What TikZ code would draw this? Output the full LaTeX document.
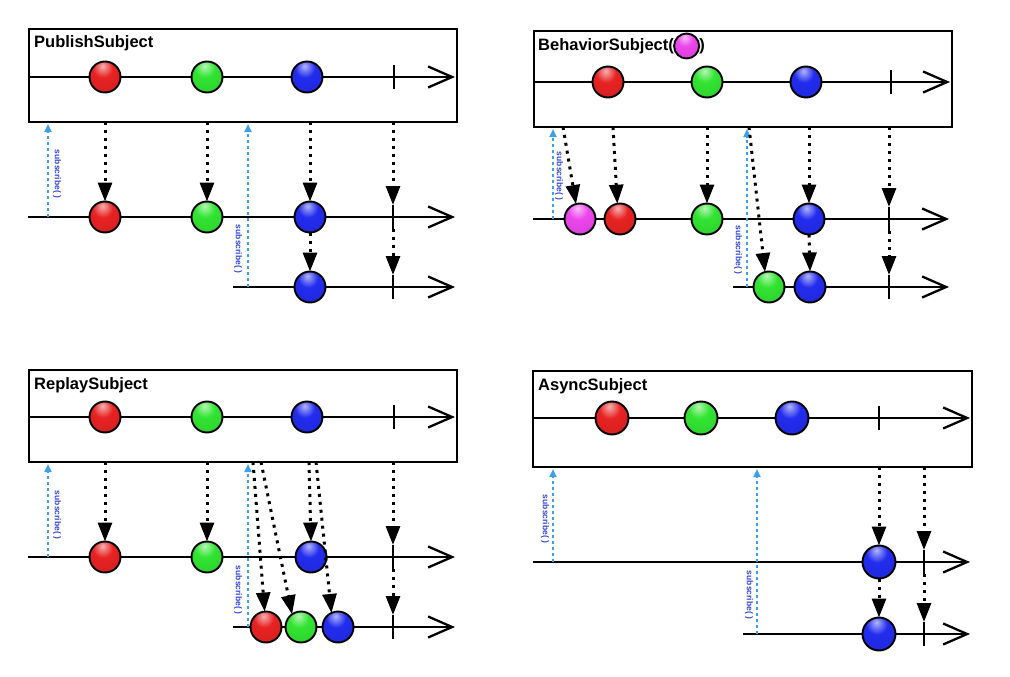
\documentclass[tikz,border=0pt]{standalone}
\usepackage{fontspec}
\setmainfont{Liberation Sans}
\usetikzlibrary{arrows.meta,shadings}
\definecolor{ballred}{RGB}{232,34,34}
\definecolor{ballgreen}{RGB}{50,228,50}
\definecolor{ballblue}{RGB}{34,44,238}
\definecolor{ballmag}{RGB}{236,70,236}
\definecolor{subarrow}{RGB}{60,160,240}
\definecolor{subtext}{RGB}{50,70,220}
\pgfdeclareradialshading{shR}{\pgfpoint{-4bp}{18bp}}{color(0bp)=(ballred!35!white); color(16bp)=(ballred); color(50bp)=(ballred!88!black); color(68bp)=(ballred!65!black); color(100bp)=(ballred!65!black)}
\pgfdeclareradialshading{shG}{\pgfpoint{-4bp}{18bp}}{color(0bp)=(ballgreen!35!white); color(16bp)=(ballgreen); color(50bp)=(ballgreen!88!black); color(68bp)=(ballgreen!65!black); color(100bp)=(ballgreen!65!black)}
\pgfdeclareradialshading{shB}{\pgfpoint{-4bp}{18bp}}{color(0bp)=(ballblue!35!white); color(16bp)=(ballblue); color(50bp)=(ballblue!88!black); color(68bp)=(ballblue!65!black); color(100bp)=(ballblue!65!black)}
\pgfdeclareradialshading{shM}{\pgfpoint{-4bp}{18bp}}{color(0bp)=(ballmag!35!white); color(16bp)=(ballmag); color(50bp)=(ballmag!88!black); color(68bp)=(ballmag!65!black); color(100bp)=(ballmag!65!black)}
\tikzset{
  frame/.style={draw=black, line width=2.3pt, anchor=north west, inner sep=0pt, outer sep=0pt},
  ttl/.style={anchor=base west, inner sep=0pt, font=\bfseries\fontsize{16.5}{18}\selectfont},
  tl/.style={line width=2.3pt, -{Straight Barb[length=24pt,width=21pt,line width=2.3pt]}},
  tk/.style={line width=2.3pt},
  ballnode/.style={circle, draw=black, line width=1.9pt, minimum size=31pt, inner sep=0pt, outer sep=0pt},
  rb/.style={ballnode, shading=shR},
  gb/.style={ballnode, shading=shG},
  bb/.style={ballnode, shading=shB},
  mb/.style={ballnode, shading=shM},
  ev/.style={black, line width=3pt, dash pattern=on 3pt off 5pt, -{Triangle[length=19pt,width=14pt]}},
  sub/.style={subarrow, line width=2.2pt, dash pattern=on 3pt off 3pt, -{Triangle[length=8pt,width=7pt]}},
  sublbl/.style={text=subtext, font=\bfseries\fontsize{8.5}{9}\selectfont, rotate=-90, inner sep=0pt}
}
\begin{document}
\begin{tikzpicture}[x=1pt,y=-1pt]
\useasboundingbox (0,0) rectangle (1010,677);

% ================= PublishSubject =================
\node[frame, minimum width=428pt, minimum height=93pt] (f1) at (29,29) {};
\node[ttl] (t1) at (34,48) {PublishSubject};
\coordinate (a1s) at (29,77); \coordinate (a1e) at (455,77);
\draw[tl] (a1s) -- (a1e);
\coordinate (a2s) at (28,217); \coordinate (a2e) at (455,217);
\draw[tl] (a2s) -- (a2e);
\coordinate (a3s) at (233,287); \coordinate (a3e) at (455,287);
\draw[tl] (a3s) -- (a3e);
\coordinate (k1a) at (394,65); \coordinate (k1b) at (394,89);
\draw[tk] (k1a) -- (k1b);
\coordinate (k2a) at (393,205); \coordinate (k2b) at (393,229);
\draw[tk] (k2a) -- (k2b);
\coordinate (k3a) at (393,275); \coordinate (k3b) at (393,299);
\draw[tk] (k3a) -- (k3b);
% subscribe
\coordinate (s1a) at (48,217); \coordinate (s1b) at (48,124);
\draw[sub] (s1a) -- (s1b);
\node[sublbl] (l1a) at (57,174) {subscribe( )};
\coordinate (s1c) at (248,287); \coordinate (s1d) at (248,124);
\draw[sub] (s1c) -- (s1d);
\node[sublbl] (l1b) at (238,249) {subscribe( )};
% balls
\node[rb] (p1r) at (105,77) {};
\node[gb] (p1g) at (207,77) {};
\node[bb] (p1b) at (307,77) {};
\node[rb] (p1r2) at (105,217) {};
\node[gb] (p1g2) at (207,217) {};
\node[bb] (p1b2) at (310,217) {};
\node[bb] (p1b3) at (310,287) {};
% event arrows
\coordinate (e1r) at (105,122); \coordinate (e1g) at (207,122);
\coordinate (e1b) at (310,122); \coordinate (e1k) at (393,122);
\draw[ev] (e1r) -- (p1r2.north);
\draw[ev] (e1g) -- (p1g2.north);
\draw[ev] (e1b) -- (p1b2.north);
\draw[ev] (e1k) -- (k2a);
\draw[ev] (p1b2.south) -- (p1b3.north);
\draw[ev] (k2b) -- (k3a);

% ================= BehaviorSubject =================
\node[frame, minimum width=418pt, minimum height=96pt] (f2) at (534,31) {};
\node[ttl] (t2) at (538,51) {BehaviorSubject(};
\node[mb, minimum size=25pt, anchor=west] (t2b) at ([yshift=5pt]t2.base east) {};
\node[ttl] (t2c) at (t2b.east |- t2.base) {)};
\coordinate (b1s) at (534,82); \coordinate (b1e) at (950,82);
\draw[tl] (b1s) -- (b1e);
\coordinate (b2s) at (533,219); \coordinate (b2e) at (949,219);
\draw[tl] (b2s) -- (b2e);
\coordinate (b3s) at (733,287); \coordinate (b3e) at (949,287);
\draw[tl] (b3s) -- (b3e);
\coordinate (k4a) at (891,70); \coordinate (k4b) at (891,94);
\draw[tk] (k4a) -- (k4b);
\coordinate (k5a) at (889,207); \coordinate (k5b) at (889,231);
\draw[tk] (k5a) -- (k5b);
\coordinate (k6a) at (889,275); \coordinate (k6b) at (889,299);
\draw[tk] (k6a) -- (k6b);
\coordinate (s2a) at (553,219); \coordinate (s2b) at (553,129);
\draw[sub] (s2a) -- (s2b);
\node[sublbl] (l2a) at (559,176) {subscribe( )};
\coordinate (s2c) at (747,287); \coordinate (s2d) at (747,129);
\draw[sub] (s2c) -- (s2d);
\node[sublbl] (l2b) at (738,250) {subscribe( )};
\node[rb] (q1r) at (608,82) {};
\node[gb] (q1g) at (707,82) {};
\node[bb] (q1b) at (806,82) {};
\node[mb] (q2m) at (580,219) {};
\node[rb] (q2r) at (620,219) {};
\node[gb] (q2g) at (707,219) {};
\node[bb] (q2b) at (809,219) {};
\node[gb] (q3g) at (769,287) {};
\node[bb] (q3b) at (810,287) {};
\coordinate (e2m) at (563,127); \coordinate (e2r) at (613,127);
\coordinate (e2g) at (707,127); \coordinate (e2b) at (809,127);
\coordinate (e2k) at (889,127); \coordinate (e2g3) at (749,127);
\draw[ev] (e2m) -- (q2m.105);
\draw[ev] (e2r) -- (q2r.100);
\draw[ev] (e2g) -- (q2g.north);
\draw[ev] (e2b) -- (q2b.north);
\draw[ev] (e2k) -- (k5a);
\draw[ev] (e2g3) -- (q3g.105);
\draw[ev] (q2b.south) -- (q3b.north);
\draw[ev] (k5b) -- (k6a);

% ================= ReplaySubject =================
\node[frame, minimum width=428pt, minimum height=92pt] (f3) at (29,370) {};
\node[ttl] (t3) at (34,389) {ReplaySubject};
\coordinate (c1s) at (29,417); \coordinate (c1e) at (455,417);
\draw[tl] (c1s) -- (c1e);
\coordinate (c2s) at (28,557); \coordinate (c2e) at (455,557);
\draw[tl] (c2s) -- (c2e);
\coordinate (c3s) at (233,627); \coordinate (c3e) at (455,627);
\draw[tl] (c3s) -- (c3e);
\coordinate (k7a) at (394,405); \coordinate (k7b) at (394,429);
\draw[tk] (k7a) -- (k7b);
\coordinate (k8a) at (393,545); \coordinate (k8b) at (393,569);
\draw[tk] (k8a) -- (k8b);
\coordinate (k9a) at (393,615); \coordinate (k9b) at (393,639);
\draw[tk] (k9a) -- (k9b);
\coordinate (s3a) at (48,557); \coordinate (s3b) at (48,464);
\draw[sub] (s3a) -- (s3b);
\node[sublbl] (l3a) at (57,515) {subscribe( )};
\coordinate (s3c) at (248,627); \coordinate (s3d) at (248,464);
\draw[sub] (s3c) -- (s3d);
\node[sublbl] (l3b) at (238,590) {subscribe( )};
\node[rb] (r1r) at (105,417) {};
\node[gb] (r1g) at (207,417) {};
\node[bb] (r1b) at (307,417) {};
\node[rb] (r2r) at (105,557) {};
\node[gb] (r2g) at (207,557) {};
\node[bb] (r2b) at (311,557) {};
\node[rb] (r3r) at (266,627) {};
\node[gb] (r3g) at (301,627) {};
\node[bb] (r3b) at (338,627) {};
\coordinate (e3r) at (105,462); \coordinate (e3g) at (207,462);
\coordinate (e3b) at (309,462); \coordinate (e3k) at (393,462);
\coordinate (e3r3) at (253,462); \coordinate (e3g3) at (261,462);
\coordinate (e3b3) at (316,462);
\draw[ev] (e3r) -- (r2r.north);
\draw[ev] (e3g) -- (r2g.north);
\draw[ev] (e3b) -- (r2b.north);
\draw[ev] (e3k) -- (k8a);
\draw[ev] (e3r3) -- (r3r.95);
\draw[ev] (e3g3) -- (r3g.125);
\draw[ev] (e3b3) -- (r3b.115);
\draw[ev] (k8b) -- (k9a);

% ================= AsyncSubject =================
\node[frame, minimum width=439pt, minimum height=96pt] (f4) at (533,371) {};
\node[ttl] (t4) at (538,390) {AsyncSubject};
\coordinate (d1s) at (533,418); \coordinate (d1e) at (970,418);
\draw[tl] (d1s) -- (d1e);
\coordinate (d2s) at (533,562); \coordinate (d2e) at (970,562);
\draw[tl] (d2s) -- (d2e);
\coordinate (d3s) at (743,634); \coordinate (d3e) at (970,634);
\draw[tl] (d3s) -- (d3e);
\coordinate (k10a) at (879,406); \coordinate (k10b) at (879,430);
\draw[tk] (k10a) -- (k10b);
\coordinate (k11a) at (924,550); \coordinate (k11b) at (924,574);
\draw[tk] (k11a) -- (k11b);
\coordinate (k12a) at (924,622); \coordinate (k12b) at (924,646);
\draw[tk] (k12a) -- (k12b);
\coordinate (s4a) at (553,562); \coordinate (s4b) at (553,469);
\draw[sub] (s4a) -- (s4b);
\node[sublbl] (l4a) at (545,519) {subscribe( )};
\coordinate (s4c) at (757,634); \coordinate (s4d) at (757,469);
\draw[sub] (s4c) -- (s4d);
\node[sublbl] (l4b) at (749,595) {subscribe( )};
\node[rb, minimum size=33pt] (w1r) at (612,418) {};
\node[gb, minimum size=33pt] (w1g) at (701,418) {};
\node[bb, minimum size=33pt] (w1b) at (792,418) {};
\node[bb, minimum size=33pt] (w2b) at (879,562) {};
\node[bb, minimum size=33pt] (w3b) at (879,634) {};
\coordinate (e4b) at (879,467); \coordinate (e4k) at (924,467);
\draw[ev] (e4b) -- (w2b.north);
\draw[ev] (e4k) -- (k11a);
\draw[ev] (w2b.south) -- (w3b.north);
\draw[ev] (k11b) -- (k12a);
\end{tikzpicture}
\end{document}
